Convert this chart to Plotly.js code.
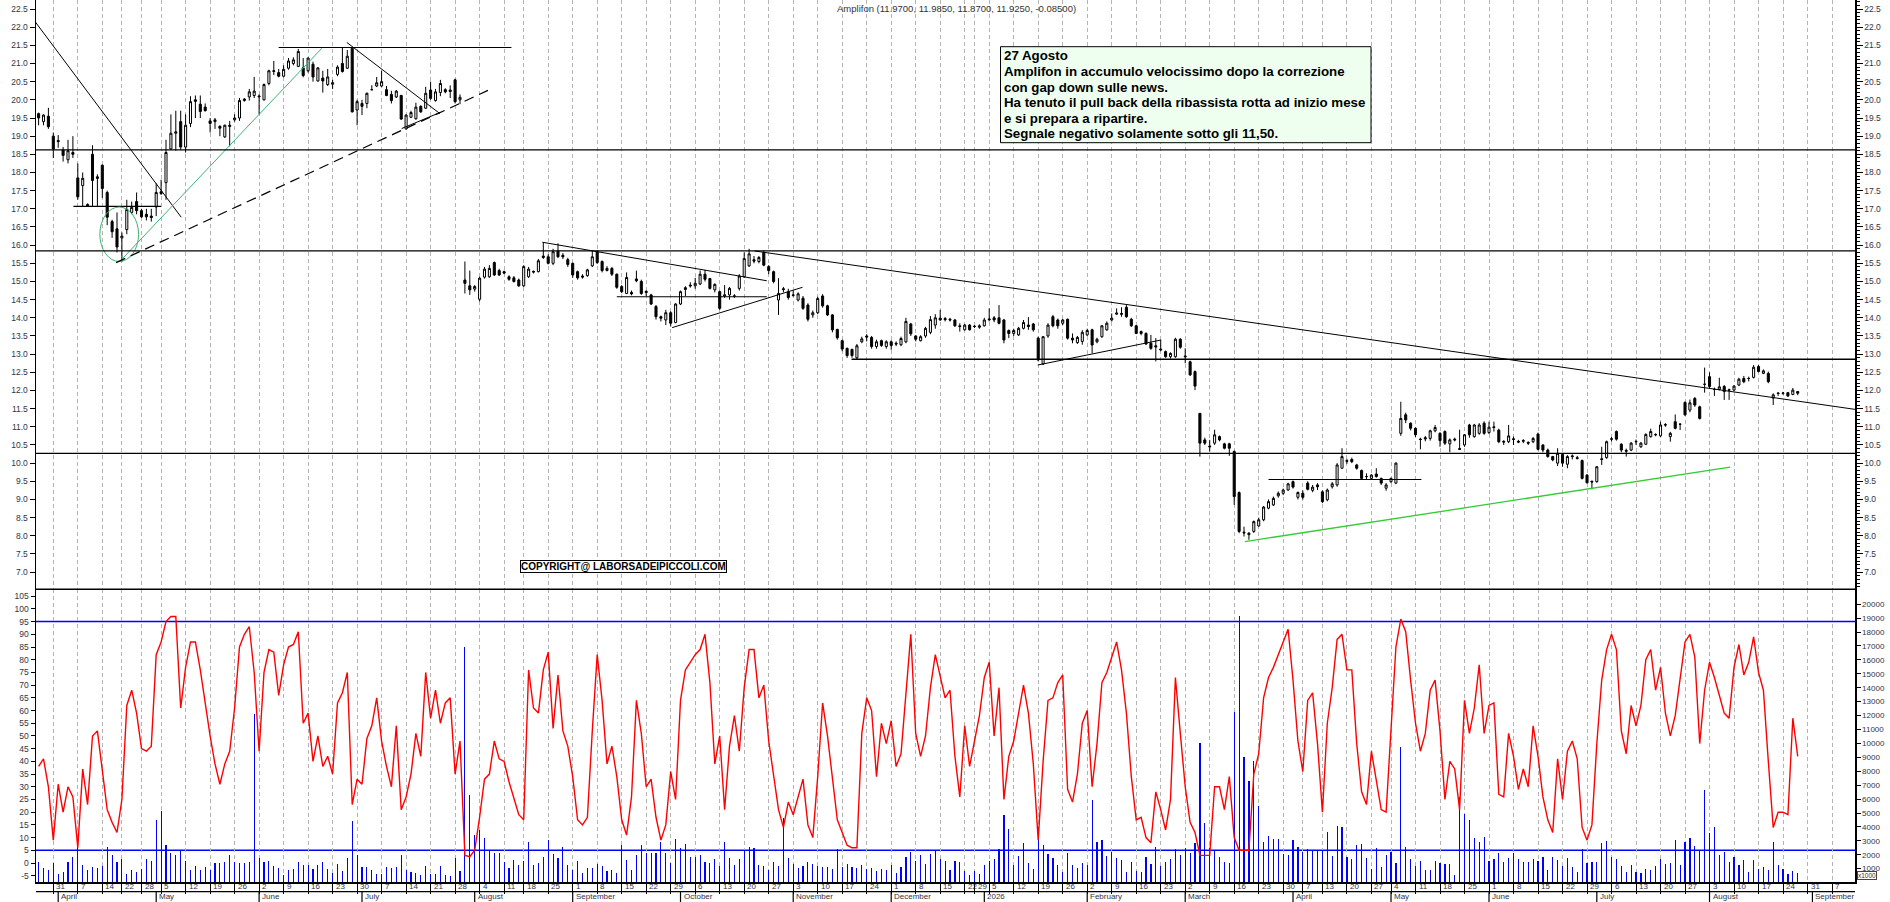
<!DOCTYPE html>
<html><head><meta charset="utf-8">
<script src="https://cdn.plot.ly/plotly-3.0.1.min.js"></script>
<style>html,body{margin:0;padding:0;background:#fff;}#chart{width:1890px;height:902px;}</style>
</head><body><div id="chart"></div>
<script>
// ---------------- DATA ----------------
const holidays = ['2025-04-18','2025-04-21','2025-05-01','2025-08-15','2025-12-24','2025-12-25','2025-12-26','2025-12-31','2026-01-01','2026-04-03','2026-04-06','2026-05-01'];
const firstDay = '2025-03-26';
const monthNames = ['January','February','March','April','May','June','July','August','September','October','November','December'];

const opens = [
19.62,19.40,19.55,19.0,18.88,18.62,18.35,18.55,17.85,17.64,17.12,18.5,17.88,
18.2,17.45,16.65,16.45,16.2,16.43,16.9,17.2,16.95,16.85,
16.8,17.05,17.47,17.72,18.65,19.08,19.4,18.7,19.35,20.0,
19.88,19.8,19.42,19.4,19.27,18.98,19.3,19.45,19.5,19.98,
20.08,20.12,20.08,20.0,20.45,20.78,20.75,20.65,20.87,21.0,
20.92,20.88,20.8,20.98,20.52,20.6,20.42,20.43,20.7,21.0,
20.87,21.42,19.72,19.9,19.9,20.28,20.38,20.38,20.28,20.15,
20.08,20.12,19.2,19.52,19.48,19.82,19.77,20.27,19.98,20.2,
20.28,20.27,20.55,20.0,
15.04,14.88,14.79,14.51,15.12,15.13,
15.52,15.3,15.27,15.13,15.1,15.04,14.88,15.13,15.28,15.27,
15.66,15.68,15.5,15.84,15.72,15.6,15.5,15.27,15.15,15.16,
15.43,15.82,15.55,15.3,15.36,15.2,14.86,14.67,14.7,15.07,
15.0,14.73,14.63,14.31,14.03,13.94,14.14,13.87,14.38,14.78,
14.9,14.88,14.93,15.2,15.08,14.77,14.72,14.6,14.63,14.6,
14.81,15.13,15.43,15.6,15.55,15.8,15.41,15.27,14.49,14.8,
14.72,14.63,14.49,14.54,14.35,14.08,14.14,14.6,14.33,14.08,
13.68,13.37,13.16,13.13,12.9,13.34,13.5,13.46,13.21,13.37,
13.21,13.34,13.3,13.26,13.34,13.83,13.5,13.37,13.5,13.6,
13.8,13.99,13.98,13.96,13.94,13.78,13.67,13.8,13.77,13.74,
13.78,13.97,14.0,14.0,13.94,13.65,13.57,13.53,13.71,13.8,
13.83,13.44,12.73,13.5,14.03,13.94,13.85,13.96,13.44,13.32,
13.35,13.53,13.67,13.34,13.48,13.67,13.94,14.1,14.12,14.29,
13.96,13.78,13.62,13.57,13.3,13.23,13.14,13.07,12.93,12.93,
13.41,12.95,12.79,12.52,11.37,10.64,10.47,10.55,10.73,10.53,
10.53,10.32,9.19,8.1,8.03,8.12,8.27,8.44,8.76,8.85,
9.1,9.17,9.26,9.49,9.06,9.17,9.45,9.25,9.4,9.21,
8.99,9.35,9.4,9.86,10.07,10.1,9.95,9.8,9.63,9.58,
9.7,9.58,9.31,9.49,9.45,10.82,11.33,11.1,10.96,10.66,
10.7,10.68,10.89,10.82,10.87,10.53,10.66,10.4,10.5,11.05,
10.73,10.82,11.1,10.84,11.0,10.91,10.6,10.59,10.67,10.6,
10.6,10.57,10.59,10.8,10.5,10.36,10.18,10.0,10.24,9.97,
10.2,10.15,10.07,9.67,9.5,9.49,10.12,10.15,10.67,10.87,
10.52,10.35,10.36,10.6,10.45,10.52,10.73,10.79,10.75,11.06,
10.73,11.14,11.07,11.67,11.46,11.78,11.55,12.17,12.38,12.03,
12.03,12.11,12.02,12.01,12.15,12.33,12.33,12.36,12.66,12.47,
12.47,11.79,11.93,11.92,11.94,11.89,11.97];

const highs = [
19.65,19.6,19.78,19.1,19.03,18.7,18.9,19.0,18.25,18.0,17.15,18.75,17.95,
18.22,17.5,16.7,16.9,16.35,17.25,17.2,17.45,17.0,17.0,
17.0,17.7,17.8,18.9,19.6,19.7,19.7,19.6,20.1,20.12,
20.12,19.9,19.5,19.5,19.3,19.32,19.42,19.6,20.05,20.05,
20.3,20.63,20.15,20.45,20.83,21.07,20.85,20.95,21.15,21.17,
21.4,21.15,21.17,21.05,20.9,20.8,20.85,20.55,20.95,21.45,
21.37,21.45,20.0,20.0,20.2,20.4,20.63,20.8,20.38,20.25,
20.27,20.14,19.6,19.7,19.92,19.85,20.36,20.5,20.3,20.55,
20.32,20.4,20.58,20.15,
15.55,15.3,14.9,15.13,15.4,15.45,
15.55,15.35,15.3,15.17,15.15,15.08,15.45,15.4,15.3,15.62,
16.07,15.75,15.9,16.05,15.78,15.65,15.52,15.3,15.2,15.35,
15.85,15.86,15.58,15.42,15.4,15.22,14.9,15.25,14.75,15.3,
15.05,14.75,14.66,14.35,14.06,14.22,14.18,14.4,14.75,14.87,
14.98,15.1,15.3,15.32,15.1,14.95,14.75,14.9,14.85,14.65,
15.2,15.8,15.9,15.7,15.7,15.85,15.45,15.3,15.09,14.85,
14.8,14.75,14.7,14.6,14.4,14.2,14.58,14.65,14.36,14.1,
13.7,13.4,13.18,13.15,13.28,13.48,13.55,13.5,13.4,13.4,
13.38,13.38,13.35,13.48,14.0,13.86,13.52,13.52,13.75,14.05,
14.1,14.22,14.02,14.0,13.97,13.85,13.83,13.83,13.8,13.82,
14.0,14.26,14.05,14.35,13.97,13.68,13.7,13.75,13.94,14.02,
13.86,13.48,13.5,13.85,14.08,13.98,13.97,13.98,13.57,13.5,
13.66,13.7,13.7,13.45,13.8,13.9,14.12,14.26,14.29,14.35,
14.0,13.8,13.65,13.6,13.53,13.44,13.39,13.1,13.05,13.45,
13.44,13.16,12.82,12.55,11.37,10.7,10.64,10.92,10.76,10.56,
10.56,10.35,9.22,8.25,8.1,8.42,8.5,8.82,9.0,9.08,
9.22,9.3,9.46,9.52,9.22,9.25,9.5,9.4,9.45,9.25,
9.3,9.48,10.0,10.41,10.12,10.15,9.98,9.82,9.72,9.7,
9.86,9.6,9.45,9.6,10.02,11.69,11.39,11.12,10.98,10.7,
10.75,10.92,11.05,10.85,10.9,10.68,10.7,10.92,10.8,11.08,
11.08,11.1,11.15,11.14,11.14,10.95,10.63,11.05,10.73,10.64,
10.66,10.6,10.72,10.84,10.52,10.4,10.2,10.41,10.27,10.22,
10.24,10.2,10.1,9.7,9.52,9.92,10.45,10.62,10.72,10.9,
10.55,10.4,10.58,10.65,10.58,10.82,10.95,10.82,11.14,11.1,
10.86,11.34,11.1,11.7,11.75,11.82,11.58,12.63,12.5,12.08,
12.35,12.15,12.05,12.15,12.35,12.4,12.38,12.7,12.7,12.58,
12.52,11.92,11.95,11.96,11.96,12.07,11.985];

const lows = [
19.3,19.3,19.2,18.4,18.68,18.3,18.25,18.4,17.25,17.05,17.05,17.05,17.05,
17.3,16.55,16.2,15.8,15.55,16.3,16.85,16.85,16.75,16.68,
16.65,16.8,17.38,17.25,18.62,18.6,18.62,18.55,19.25,19.5,
19.5,19.68,19.1,19.2,19.0,18.95,18.72,19.4,19.42,19.95,
19.98,20.05,19.6,19.98,20.4,20.68,20.62,20.62,20.83,20.95,
20.9,20.62,20.75,20.5,20.5,20.2,20.38,20.3,20.65,20.75,
20.85,19.65,19.3,19.58,19.77,20.26,20.35,20.35,20.1,19.9,
20.05,19.45,19.18,19.5,19.45,19.64,19.75,20.0,19.95,20.1,
20.18,20.05,19.9,19.88,
14.67,14.63,14.72,14.45,15.08,15.1,
15.15,15.15,15.2,15.02,14.97,14.85,14.85,15.1,15.22,15.25,
15.62,15.47,15.45,15.65,15.62,15.4,15.1,15.05,15.08,15.13,
15.4,15.48,15.25,15.28,15.15,14.8,14.68,14.65,14.62,14.98,
14.63,14.6,14.35,13.95,13.9,13.8,13.76,13.85,14.35,14.6,
14.83,14.8,14.9,15.0,14.78,14.7,14.22,14.55,14.5,14.55,
14.75,15.1,15.4,15.5,15.5,15.42,15.2,14.95,14.08,14.7,
14.5,14.58,14.45,14.22,13.9,14.0,14.1,14.28,14.05,13.6,
13.4,13.08,12.9,12.9,12.86,13.3,13.35,13.15,13.15,13.2,
13.15,13.12,13.22,13.22,13.3,13.5,13.35,13.35,13.45,13.55,
13.7,13.92,13.9,13.9,13.75,13.62,13.65,13.65,13.72,13.7,
13.76,13.9,13.88,13.82,13.3,13.44,13.5,13.5,13.68,13.67,
13.62,12.8,12.7,13.45,13.74,13.7,13.8,13.4,13.3,13.28,
13.26,13.5,13.02,13.3,13.45,13.64,13.9,14.08,14.03,14.0,
13.75,13.55,13.52,13.25,13.12,12.8,13.08,12.9,12.88,12.9,
13.15,12.75,12.4,12.01,10.18,10.5,10.32,10.5,10.6,10.38,
10.2,8.85,8.07,7.98,7.89,8.08,8.25,8.4,8.73,8.82,
9.05,9.12,9.24,9.3,9.0,9.0,9.25,9.2,9.26,8.9,
8.95,9.3,9.35,9.85,9.98,10.0,9.82,9.55,9.55,9.55,
9.6,9.4,9.24,9.45,9.42,10.75,11.1,10.9,10.72,10.38,
10.6,10.62,10.85,10.45,10.5,10.3,10.6,10.36,10.45,10.7,
10.7,10.78,10.78,10.8,10.87,10.55,10.5,10.55,10.5,10.55,
10.55,10.5,10.55,10.35,10.3,10.15,10.05,9.92,9.9,9.86,
10.1,10.1,9.55,9.44,9.28,9.46,9.95,10.12,10.6,10.62,
10.3,10.18,10.33,10.5,10.42,10.5,10.7,10.74,10.72,11.0,
10.59,10.93,10.91,11.3,11.4,11.55,11.2,11.94,12.05,11.85,
12.0,11.74,11.74,11.98,12.12,12.2,12.25,12.33,12.5,12.45,
12.2,11.6,11.85,11.88,11.82,11.87,11.87];

const closes = [
19.5,19.58,19.26,18.65,18.85,18.47,18.6,18.5,17.33,17.84,17.08,17.78,17.84,
17.56,16.77,16.37,15.95,16.25,16.98,17.04,16.95,16.78,16.78,
16.76,17.45,17.42,18.55,19.08,19.12,18.7,19.3,19.95,19.96,
19.68,19.7,19.35,19.45,19.22,19.3,19.27,19.5,19.98,20.02,
20.22,20.24,20.1,20.42,20.8,20.8,20.65,20.84,21.07,21.1,
21.33,20.67,21.15,20.63,20.88,20.52,20.63,20.47,20.9,20.78,
21.2,19.67,19.95,19.82,20.18,20.28,20.47,20.5,20.12,19.98,
20.24,19.47,19.58,19.65,19.8,19.67,20.18,20.04,20.22,20.45,
20.22,20.23,19.95,20.07,
14.95,14.77,14.86,15.09,15.34,15.36,
15.18,15.18,15.23,15.06,15.0,14.88,15.41,15.34,15.26,15.57,
15.7,15.5,15.82,15.68,15.68,15.47,15.18,15.1,15.12,15.32,
15.68,15.52,15.3,15.36,15.2,14.84,14.72,15.11,14.66,15.02,
14.67,14.7,14.38,14.03,13.99,14.14,13.85,14.38,14.72,14.83,
14.88,14.95,15.2,15.06,14.81,14.92,14.26,14.63,14.81,14.6,
15.15,15.63,15.76,15.56,15.66,15.45,15.3,15.0,14.67,14.78,
14.56,14.62,14.66,14.26,13.96,14.14,14.53,14.33,14.08,13.67,
13.45,13.14,12.96,12.96,13.23,13.42,13.47,13.21,13.34,13.24,
13.34,13.24,13.28,13.43,13.9,13.56,13.41,13.48,13.71,13.95,
14.0,13.94,13.95,13.94,13.78,13.76,13.8,13.67,13.76,13.78,
13.94,13.95,13.94,13.85,13.39,13.57,13.65,13.71,13.87,13.76,
13.67,12.84,13.48,13.8,13.78,13.78,13.94,13.44,13.39,13.46,
13.6,13.65,13.25,13.41,13.78,13.85,13.99,14.13,14.1,14.03,
13.78,13.57,13.57,13.28,13.16,13.2,13.12,12.93,13.02,13.41,
13.19,12.93,12.43,12.12,10.55,10.55,10.45,10.78,10.64,10.41,
10.41,9.08,8.12,8.08,8.07,8.39,8.44,8.79,8.94,9.03,
9.17,9.26,9.43,9.34,9.19,9.06,9.28,9.34,9.35,8.94,
9.26,9.43,9.95,10.18,10.05,10.04,9.86,9.58,9.63,9.67,
9.63,9.45,9.4,9.58,10.0,11.23,11.19,10.96,10.78,10.65,
10.67,10.89,10.98,10.62,10.55,10.64,10.64,10.38,10.78,10.78,
11.05,11.05,10.82,10.99,10.98,10.59,10.58,10.75,10.65,10.58,
10.62,10.55,10.68,10.38,10.36,10.18,10.09,10.27,10.0,10.18,
10.18,10.13,9.58,9.46,9.48,9.9,10.1,10.59,10.66,10.66,
10.36,10.33,10.55,10.59,10.55,10.79,10.87,10.78,11.05,11.05,
10.82,10.96,11.07,11.33,11.66,11.6,11.23,12.17,12.11,12.03,
12.1,11.97,12.01,12.12,12.31,12.24,12.33,12.64,12.52,12.54,
12.24,11.88,11.92,11.93,11.85,12.01,11.925];

const stochastic = [
38,41,30,9,31,20,30,26,6,37,23,50,52,
37,21,16,12,25,62,68,59,45,44,
46,82,87,95,97,97,61,77,87,87,
76,62,50,39,31,39,44,61,85,90,
93,75,44,75,84,83,66,78,85,86,
91,55,59,40,50,38,42,35,63,67,
75,23,33,31,49,54,65,48,38,30,
54,21,26,35,51,42,75,57,68,55,
63,65,35,48,
3,2.5,5,18,33,35,
48,41,40,32,25,19,17,76,61,59,
76,83,53,74,52,46,34,17,15,18,
52,82,64,39,46,34,17,11,26,64,
51,30,33,18,9,15,36,25,64,76,
79,82,84,90,71,39,50,21,46,58,
44,69,84,84,65,70,48,34,21,14,
24,19,26,33,15,10,34,63,50,34,
17,12,7,6,6,51,65,60,34,55,
47,56,38,43,68,90,51,42,50,69,
82,74,65,68,42,26,54,38,48,58,
73,79,50,69,25,42,48,59,70,59,
39,9,40,64,65,71,74,29,24,35,
55,60,30,47,71,75,81,87,76,59,
34,17,18,10,8,28,21,13,25,73,
51,30,16,12,3,3,3,30,30,21,
34,10,5,5,5,35,43,65,73,77,
82,87,92,72,48,36,64,67,47,20,
55,69,88,90,76,76,47,28,23,44,
32,21,20,55,85,96,91,72,55,44,
51,68,72,52,25,40,37,21,64,51,
61,78,51,62,63,27,26,51,42,29,
37,30,54,42,26,17,12,41,25,44,
48,41,14,9,15,47,72,84,90,84,
52,43,62,54,62,80,84,68,77,59,
50,58,73,87,90,81,47,68,79,73,
66,59,57,77,86,74,79,89,75,68,
40,14,20,20,19,57,42];

const volumes = [
1500,1030,900,1380,620,790,1500,1860,2530,1260,900,1140,1030,
1190,2580,1980,1500,1690,620,900,740,970,1690,
1570,4500,5140,2700,2100,1980,2300,1550,900,1190,
900,1140,900,1430,1430,1500,1980,1500,1430,1430,
1500,12100,1740,1500,1550,1190,1030,550,900,970,
1500,1260,1260,970,1260,1500,970,660,1330,830,
1740,4400,1980,1090,1090,900,620,620,1090,1030,
1140,1980,900,790,660,546,1193,618,618,1193,
546,470,1743,833,
16950,6293,3420,3780,3180,2342,
2102,2102,1504,1025,1624,1264,1576,2941,1264,1432,
1863,3060,2055,1743,2581,1264,905,1552,666,1025,
1025,1336,1193,833,905,666,2701,1624,905,1983,
2701,2102,2102,2102,2941,2102,1383,3161,2462,2773,
1863,1863,1983,1504,1383,1671,1193,2941,1743,1264,
1671,2342,2581,2462,1264,1193,905,1480,1193,4617,
1743,1336,1025,1193,1480,1336,1193,1097,1145,953,
2390,1097,1336,1145,1025,1240,1000,1025,857,953,
905,1264,713,1145,1863,2198,1528,1983,1336,2055,
2342,1671,1576,905,1576,1504,833,546,833,618,
1264,1576,1719,2390,4857,3827,1264,1910,2820,1384,
953,4018,2701,2031,1743,1264,785,2102,1264,1025,
1384,1264,5934,2893,3060,1910,2198,1743,1624,785,
1504,857,785,1863,1336,2581,1193,1504,1695,2414,
1983,2486,2102,2820,10005,4258,2462,2294,1863,1504,
1432,12280,19150,9050,7323,8760,5503,2941,3348,3108,
3161,2031,1983,3060,2581,2198,2390,2342,2342,2342,
3649,1935,4066,3970,1815,1719,2701,2773,1767,1000,
2510,1145,1983,2222,1432,9770,2534,1695,1216,1552,
905,905,1552,1432,1312,1336,546,6173,4928,4497,
3204,2893,3252,1576,1719,2102,1504,1743,2102,1671,
1504,1504,1671,1576,1815,905,1863,1624,1193,1743,
1097,738,2390,1384,1504,1504,2821,2964,1815,1671,
1216,738,1240,738,666,1001,905,1169,1671,1312,
1384,3060,1264,2917,3204,2629,2294,6652,3539,3970,
1983,2174,1504,1863,1264,1624,785,1624,1001,1145,
905,2941,1264,953,594,833,700];

const titleText = 'Amplifon (11.9700, 11.9850, 11.8700, 11.9250, -0.08500)';
const noteLines = ['27 Agosto','Amplifon in accumulo velocissimo dopo la correzione','con gap down sulle news.','Ha tenuto il pull back della ribassista rotta ad inizio mese','e si prepara a ripartire.','Segnale negativo solamente sotto gli 11,50.'];
const copyrightText = 'COPYRIGHT@ LABORSADEIPICCOLI.COM';

// ---------------- CALENDAR (trading days) ----------------
const days = [];
(function(){
  let t = Date.parse(firstDay+'T00:00:00Z'); const end = Date.UTC(2026,8,18);
  while (t <= end) { const d = new Date(t); const wd = d.getUTCDay(); const s = d.toISOString().slice(0,10);
    if (wd !== 0 && wd !== 6 && holidays.indexOf(s) < 0) days.push(d); t += 86400000; }
})();
const XMIN = -0.53, XMAX = 370.69;
const xs = opens.map((_, k) => k);
const weekK = [], monthK = [];
for (let k = 1; k < days.length && k <= XMAX; k++) {
  const a = days[k-1], b = days[k];
  if (b.getUTCDay() < a.getUTCDay() || (b - a) >= 7*86400000) weekK.push(k);
  if (b.getUTCMonth() !== a.getUTCMonth()) monthK.push(k);
}

// ---------------- LAYOUT GEOMETRY ----------------
const W = 1890, H = 902, ML = 36, MR = 35, MT = 0, MB = 20;
const PH = H - MT - MB;               // 882
const lowTop = (PH - 589.3) / PH;     // separator between panels
const px2py = y => 1 - (y - MT) / PH; // pixel y -> paper y
const px2px = x => (x - ML) / (W - ML - MR);

const font = 'Liberation Sans, Arial, sans-serif';
const tickFont = {family: font, size: 8.5, color: '#333344'};

const priceTicks = []; for (let v = 7; v <= 22.51; v += 0.5) priceTicks.push(+v.toFixed(1));
const oscTicks = []; for (let v = -5; v <= 105; v += 5) oscTicks.push(v);
const volTicks = []; for (let v = 1000; v <= 20000; v += 1000) volTicks.push(v);

// ---------------- TRACES ----------------
const traces = [
  {type:'bar', x: xs, y: volumes, xaxis:'x', yaxis:'y', width:0.24,
   marker:{color:'#0000ff', line:{width:0}}, hoverinfo:'skip', showlegend:false},
  {type:'scatter', mode:'lines', x: xs, y: stochastic, xaxis:'x', yaxis:'y3',
   line:{color:'#ff0000', width:1.4}, hoverinfo:'skip', showlegend:false},
  {type:'candlestick', x: xs, open: opens, high: highs, low: lows, close: closes, xaxis:'x', yaxis:'y2',
   increasing:{line:{color:'#000', width:1}, fillcolor:'#ffffff'},
   decreasing:{line:{color:'#000', width:1}, fillcolor:'#000000'},
   whiskerwidth:0, hoverinfo:'skip', showlegend:false},
  {type:'scatter', mode:'lines', x:[0,1], y:[null,null], xaxis:'x', yaxis:'y4', hoverinfo:'skip', showlegend:false}
];

// ---------------- SHAPES ----------------
const shapes = [];
const seg = (x0,y0,x1,y1,color,width,dash) => shapes.push({type:'line', xref:'x', yref:'y2', x0,y0,x1,y1, line:{color:color||'#000', width:width||1, dash:dash||'solid'}});
const hfull = (y) => shapes.push({type:'line', xref:'paper', yref:'y2', x0:0, x1:1, y0:y, y1:y, line:{color:'#000', width:1.3}});
// trendlines drawn by the author
seg(-0.7,22.15,29.1,16.77);
seg(7.1,17.07,25,17.07,'#000',1.2);
shapes.push({type:'circle', xref:'x', yref:'y2', x0:12.5, x1:20.4, y0:15.55, y1:17.05, line:{color:'#3cb371', width:1}});
seg(16.9,15.6,57.8,21.42,'#3cb371',1);
seg(15.82,15.52,91.7,20.26,'#000',1.2,'10px,6px');
seg(49,21.44,96.5,21.44,'#000',1.2);
seg(62.9,21.58,81.9,19.62);
seg(74.1,19.21,81.9,19.65);
hfull(18.62); hfull(15.84); hfull(10.27);
seg(102.8,16.08,148.6,15.02);
seg(146.1,15.84,370.7,11.48);
seg(118,14.58,148.6,14.58,'#000',1.2);
seg(129.3,13.73,155.9,14.84);
seg(165.9,12.86,370.7,12.86,'#000',1.3);
seg(203.9,12.70,229.1,13.39);
seg(251,9.55,282.2,9.55,'#000',1.2);
seg(246.2,7.84,345.2,9.89,'#33cc33',1.3);
// oscillator reference lines
[5,95].forEach(v => shapes.push({type:'line', xref:'paper', yref:'y3', x0:0, x1:1, y0:v, y1:v, line:{color:'#0000ff', width:1.5}, layer:'below'}));
// panel separator and bottom date band
shapes.push({type:'line', xref:'paper', yref:'paper', x0:0, x1:1, y0:lowTop, y1:lowTop, line:{color:'#000', width:1.5}});
const bandY = px2py(891.7), bottomY = px2py(902);
shapes.push({type:'line', xref:'paper', yref:'paper', x0:0, x1:1, y0:bandY, y1:bandY, line:{color:'#000', width:1.2}});
monthK.forEach(k => shapes.push({type:'line', xref:'x', yref:'paper', x0:k, x1:k, y0:bandY, y1:bottomY, line:{color:'#000', width:1.2}}));
// note box
shapes.push({type:'rect', xref:'paper', yref:'paper', x0:px2px(1000.5), x1:px2px(1371), y0:px2py(142.7), y1:px2py(46.7),
  fillcolor:'#efffef', line:{color:'#000', width:1}, layer:'above'});

// ---------------- ANNOTATIONS ----------------
const ann = [];
const smallFont = {family:font, size:8, color:'#333344'};
weekK.forEach(k => ann.push({xref:'x', yref:'paper', x:k, y:px2py(886.8), xanchor:'left', yanchor:'middle', xshift:2, borderpad:0,
  text:String(days[k].getUTCDate()), showarrow:false, font:smallFont}));
monthK.forEach(k => ann.push({xref:'x', yref:'paper', x:k, y:px2py(901.5), xanchor:'left', yanchor:'bottom', xshift:2, borderpad:0,
  text: (days[k].getUTCMonth() === 0 ? String(days[k].getUTCFullYear()) : monthNames[days[k].getUTCMonth()]),
  showarrow:false, font:smallFont}));
ann.push({xref:'paper', yref:'paper', x:px2px(834.8), y:px2py(8), xanchor:'left', yanchor:'middle', text:titleText,
  showarrow:false, font:{family:font, size:9.5, color:'#333333'}});
const lineCenters = [55, 71.7, 87.3, 102.7, 118.3, 134];
noteLines.forEach((t,i) => ann.push({xref:'paper', yref:'paper', x:px2px(1002), y:px2py(lineCenters[i]), xanchor:'left', yanchor:'middle',
  text:'<b>'+t+'</b>', showarrow:false, font:{family:font, size:13.3, color:'#000'}}));
ann.push({xref:'paper', yref:'paper', x:px2px(623.9), y:px2py(566.7), xanchor:'center', yanchor:'middle', text:'<b>'+copyrightText+'</b>',
  showarrow:false, bgcolor:'#ffffff', bordercolor:'#000', borderwidth:1, borderpad:0, font:{family:font, size:10, color:'#000'}});
ann.push({xref:'paper', yref:'paper', x:px2px(1866.7), y:px2py(875.7), xanchor:'center', yanchor:'middle', text:'x1000',
  showarrow:false, bordercolor:'#444', borderwidth:1, borderpad:0, font:{family:font, size:6.5, color:'#333'}});
const lens = [opens,highs,lows,closes,stochastic,volumes].map(a => a.length);
if (lens.some(l => l !== lens[0])) ann.push({xref:'paper', yref:'paper', x:0.5, y:0.5, text:'LEN '+lens.join(','), showarrow:false, font:{size:30,color:'red'}});

// ---------------- LAYOUT ----------------
const baseY = {showgrid:false, zeroline:false, showline:true, linecolor:'#000', linewidth:1.5, ticks:'outside', tickcolor:'#000', tickfont:tickFont, fixedrange:true};
const layout = {
  width:W, height:H, margin:{l:ML, r:MR, t:MT, b:MB}, paper_bgcolor:'#fff', plot_bgcolor:'#fff',
  showlegend:false, boxgap:0.4, bargap:0,
  xaxis:{range:[XMIN,XMAX], anchor:'y', tickmode:'array', tickvals:weekK, showticklabels:false, ticks:'outside', ticklen:10, tickcolor:'#000',
    showgrid:true, gridcolor:'#b4b4b4', griddash:'4px,3px', gridwidth:1, showline:true, linecolor:'#000', linewidth:1.5, zeroline:false,
    rangeslider:{visible:false}, fixedrange:true},
  yaxis: Object.assign({}, baseY, {domain:[0,lowTop], range:[43,21072], side:'right', tickmode:'array', tickvals:volTicks,
    ticktext:volTicks.map(v=>String(v)), ticklen:4, tickfont:{family:font, size:8, color:'#333344'}}),
  yaxis3: Object.assign({}, baseY, {overlaying:'y', range:[-7.475,107.72], side:'left', tickmode:'array', tickvals:oscTicks,
    ticktext:oscTicks.map(v=>String(v)), ticklen:4}),
  yaxis2: Object.assign({}, baseY, {domain:[lowTop,1], range:[6.527,22.748], side:'left', tickmode:'array', tickvals:priceTicks,
    ticktext:priceTicks.map(v=>v.toFixed(1)), ticklen:5}),
  yaxis4: Object.assign({}, baseY, {overlaying:'y2', range:[6.527,22.748], side:'right', tickmode:'array', tickvals:priceTicks,
    ticktext:priceTicks.map(v=>v.toFixed(1)), ticklen:6,
    minor:{tickmode:'linear', tick0:0, dtick:0.1, ticks:'outside', ticklen:3, tickcolor:'#000', showgrid:false}}),
  shapes: shapes, annotations: ann
};
Plotly.newPlot('chart', traces, layout, {staticPlot:true, displayModeBar:false});
</script>
</body></html>
